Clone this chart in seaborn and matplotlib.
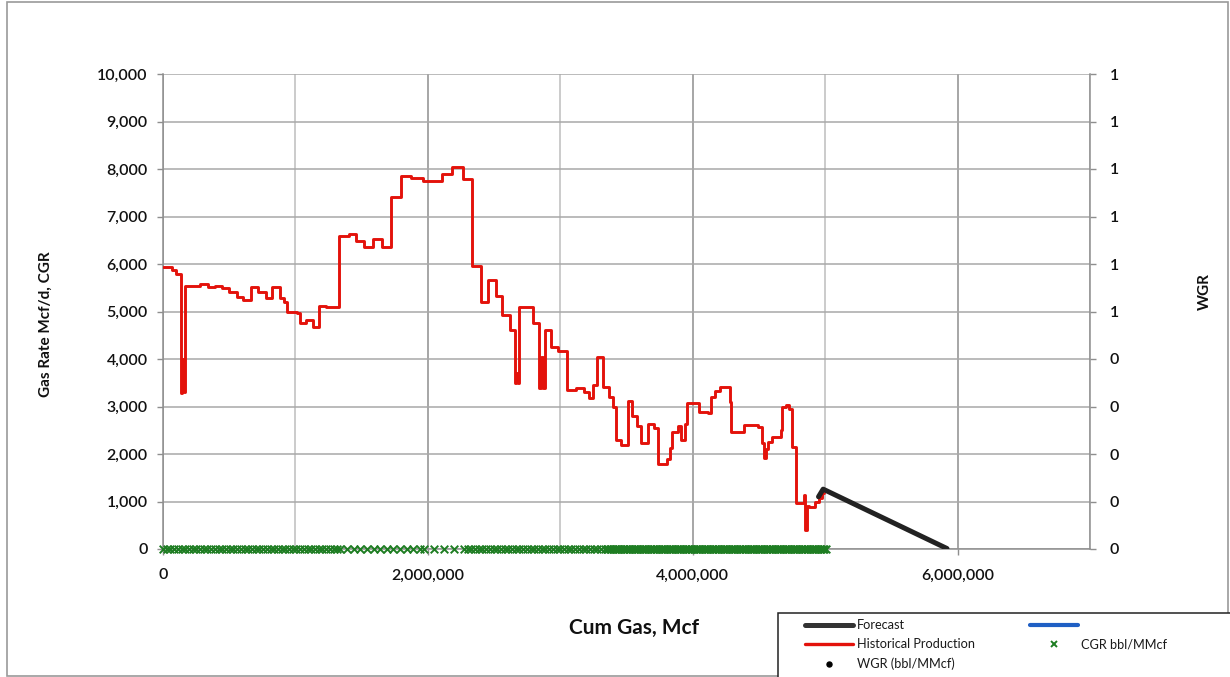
import numpy as np
import pandas as pd
import matplotlib
matplotlib.use("Agg")
import matplotlib.pyplot as plt
from matplotlib.lines import Line2D
from matplotlib.patches import Rectangle
from matplotlib.ticker import FuncFormatter, MultipleLocator
import seaborn as sns

# Historical production: cumulative gas at the start of each period (Mcf) and gas rate (Mcf/d)
hist_cum = [0, 65_000, 100_000, 135_000, 146_000, 157_000, 165_000, 282_000, 340_000, 390_000,
            444_000, 500_000, 557_000, 607_000, 664_000, 719_000, 781_000, 826_000, 882_000, 914_000,
            936_000, 1_011_000, 1_034_000, 1_082_000, 1_131_000, 1_181_000, 1_231_000, 1_331_000,
            1_406_000, 1_456_000, 1_518_000, 1_588_000, 1_655_000, 1_718_000, 1_798_000, 1_873_000,
            1_963_000, 2_105_000, 2_180_000, 2_262_000, 2_337_000, 2_405_000, 2_455_000, 2_512_000,
            2_562_000, 2_617_000, 2_655_000, 2_667_000, 2_680_000, 2_692_000, 2_796_000, 2_837_000,
            2_854_000, 2_871_000, 2_886_000, 2_929_000, 2_979_000, 3_047_000, 3_116_000, 3_179_000,
            3_216_000, 3_246_000, 3_279_000, 3_321_000, 3_366_000, 3_396_000, 3_421_000, 3_461_000,
            3_511_000, 3_541_000, 3_578_000, 3_611_000, 3_666_000, 3_711_000, 3_741_000, 3_803_000,
            3_828_000, 3_845_000, 3_890_000, 3_915_000, 3_940_000, 3_960_000, 4_028_000, 4_045_000,
            4_115_000, 4_135_000, 4_165_000, 4_203_000, 4_278_000, 4_290_000, 4_390_000, 4_490_000,
            4_520_000, 4_536_000, 4_555_000, 4_565_000, 4_602_000, 4_665_000, 4_677_000, 4_702_000,
            4_727_000, 4_752_000, 4_777_000, 4_844_000, 4_850_000, 4_862_000, 4_877_000, 4_927_000,
            4_952_000, 4_975_000, 4_990_000]
hist_rate = [5930, 5870, 5800, 3280, 4000, 3300, 5540, 5580, 5510, 5540,
             5490, 5420, 5310, 5240, 5520, 5420, 5280, 5520, 5280, 5210,
             5000, 4960, 4750, 4830, 4680, 5120, 5090, 6590,
             6640, 6490, 6360, 6520, 6350, 7420, 7850, 7820,
             7750, 7890, 8040, 7800, 5960, 5190, 5660, 5330,
             4930, 4610, 3490, 3700, 3500, 5100, 4760, 3380,
             4050, 3400, 4610, 4260, 4170, 3350, 3380, 3310,
             3170, 3450, 4040, 3420, 3210, 3000, 2300, 2190,
             3120, 2790, 2590, 2230, 2640, 2540, 1800, 1890,
             2120, 2470, 2580, 2300, 2640, 3080, 3070, 2890,
             2870, 3210, 3330, 3420, 3100, 2470, 2610, 2560,
             2230, 1910, 2100, 2260, 2360, 2510, 3000, 3030,
             2940, 2150, 960, 1140, 400, 900, 890, 1000,
             1070, 1170, 1170]

# Forecast decline to abandonment
forecast_cum = [4_950_000, 4_985_000, 5_920_000]
forecast_rate = [1_100, 1_260, 10]

# CGR samples (bbl/MMcf) - recorded along the whole history at zero;
# sampling interval (start, stop, step in Mcf) for each stretch of record
cgr_segments = [(0, 1_340_000, 28_000),
                (1_340_000, 1_970_000, 50_000),
                (1_970_000, 2_300_000, 75_000),
                (2_300_000, 3_350_000, 28_000),
                (3_350_000, 5_010_000, 12_000)]
cgr_value = 0.0

# WGR samples (bbl/MMcf) - none reported
wgr_cum = []
wgr_value = []

left_ticks = list(range(0, 10_001, 1_000))
right_ticks = [i / 10 for i in range(11)]
x_major = [0, 2_000_000, 4_000_000, 6_000_000]

hist = pd.DataFrame({"cum": hist_cum, "rate": hist_rate})
fc = pd.DataFrame({"cum": forecast_cum, "rate": forecast_rate})
cgr_cum = np.concatenate([np.arange(a, b, s) for a, b, s in cgr_segments])
cgr = pd.DataFrame({"cum": cgr_cum, "cgr": np.full(len(cgr_cum), cgr_value)})

sns.set_theme(style="white")
plt.rcParams["font.family"] = ["Lato", "DejaVu Sans"]

W, H = 1230, 677
fig = plt.figure(figsize=(W / 100, H / 100), dpi=100)
fig.patch.set_facecolor("white")


def fx(px):
    return px / W


def fy(py):
    return 1 - py / H


ax = fig.add_axes([fx(163), fy(549), fx(1090) - fx(163), fy(74) - fy(549)])
ax.set_facecolor("white")

# Grid
ax.set_xlim(0, 7_000_000)
ax.set_ylim(0, 10_000)
ax.set_xticks(x_major)
ax.xaxis.set_minor_locator(MultipleLocator(1_000_000))
ax.set_yticks(left_ticks)
ax.grid(True, which="major", axis="x", color="#8e8e8e", lw=1.1)
ax.grid(True, which="minor", axis="x", color="#bdbdbd", lw=1.1)
ax.grid(True, which="major", axis="y", color="#a8a8a8", lw=1.1)
ax.set_axisbelow(True)

# Historical production (step curve)
sns.lineplot(data=hist, x="cum", y="rate", ax=ax, color="#e3120b", lw=2.1,
             drawstyle="steps-post", sort=False, estimator=None, legend=False, zorder=3)
# Forecast
sns.lineplot(data=fc, x="cum", y="rate", ax=ax, color="#222222", lw=3.6,
             sort=False, estimator=None, legend=False, zorder=4)
# CGR markers
sns.scatterplot(data=cgr, x="cum", y="cgr", ax=ax, marker="x", color="#1e7d22",
                s=30, linewidth=1.4, legend=False, zorder=5, clip_on=False)

comma = FuncFormatter(lambda v, p: f"{int(round(v)):,}")
ax.xaxis.set_major_formatter(comma)
ax.yaxis.set_major_formatter(comma)
ax.set_xlabel("")
ax.set_ylabel("")

ax.tick_params(axis="x", which="major", length=4, width=1, color="#8e8e8e", pad=10,
               labelsize=11.5, labelcolor="#111111", bottom=True)
ax.tick_params(axis="x", which="minor", length=0)
ax.tick_params(axis="y", length=4, width=1, color="#8e8e8e", pad=7,
               labelsize=11.5, labelcolor="#111111", left=True)
for lab in ax.get_xticklabels() + ax.get_yticklabels():
    lab.set_fontweight("semibold")

for side in ["left", "bottom"]:
    ax.spines[side].set_color("#8e8e8e")
    ax.spines[side].set_linewidth(1.1)
ax.spines["top"].set_visible(False)
ax.spines["right"].set_visible(False)

# Secondary axis for WGR
ax2 = ax.twinx()
ax2.set_ylim(0, 1)
ax2.set_yticks(right_ticks)
ax2.yaxis.set_major_formatter(FuncFormatter(lambda v, p: f"{int(v + 0.5 + 1e-9)}"))
ax2.tick_params(axis="y", length=4, width=1, color="#8e8e8e", pad=10,
                labelsize=11.5, labelcolor="#111111", right=True)
for lab in ax2.get_yticklabels():
    lab.set_fontweight("semibold")
ax2.grid(False)
ax2.patch.set_visible(False)
for side in ["left", "top", "bottom"]:
    ax2.spines[side].set_visible(False)
ax2.spines["right"].set_color("#8e8e8e")
ax2.spines["right"].set_linewidth(1.1)
if wgr_cum:
    sns.scatterplot(x=wgr_cum, y=wgr_value, ax=ax2, color="black", s=12, legend=False)
ax2.set_ylabel("")

# Axis titles
fig.text(fx(46), fy(324), "Gas Rate Mcf/d, CGR", rotation=90, ha="center", va="center",
         fontsize=11, fontweight="bold", color="#111111")
fig.text(fx(634), fy(628), "Cum Gas, Mcf", ha="center", va="center",
         fontsize=15, fontweight="bold", color="#111111")
fig.text(fx(1205), fy(292), "WGR", rotation=90, ha="center", va="center",
         fontsize=11, fontweight="bold", color="#111111")

# Outer chart frame
fig.patches.append(Rectangle((fx(7), fy(676)), fx(1228) - fx(7), fy(2) - fy(676),
                             transform=fig.transFigure, fill=False, edgecolor="#9a9a9a",
                             lw=1.2, zorder=0))

# Legend box
fig.patches.append(Rectangle((fx(778), fy(679)), fx(1232) - fx(778), fy(613) - fy(679),
                             transform=fig.transFigure, facecolor="white", edgecolor="#222222",
                             lw=1.1, zorder=5))
handles = [
    Line2D([], [], color="#333333", lw=3.6),
    Line2D([], [], color="#e3120b", lw=2.4),
    Line2D([], [], color="black", marker="o", ms=3.6, ls="none"),
    Line2D([], [], color="#1f5fc4", lw=3.0),
    Line2D([], [], color="#1e7d22", marker="x", ms=5, mew=1.4, ls="none"),
]
labels = ["Forecast", "Historical Production", "WGR (bbl/MMcf)", "", "CGR bbl/MMcf"]
leg = fig.legend(handles, labels, loc="upper left", bbox_to_anchor=(fx(805), fy(619)),
                 ncol=2, frameon=False, fontsize=9.2, handlelength=3.75, handletextpad=0.3,
                 columnspacing=4.3, labelspacing=0.58, borderpad=0, borderaxespad=0)
leg.set_zorder(6)
for t in leg.get_texts():
    t.set_color("#1a1a1a")

fig.savefig("out.png", dpi=100, facecolor="white")
